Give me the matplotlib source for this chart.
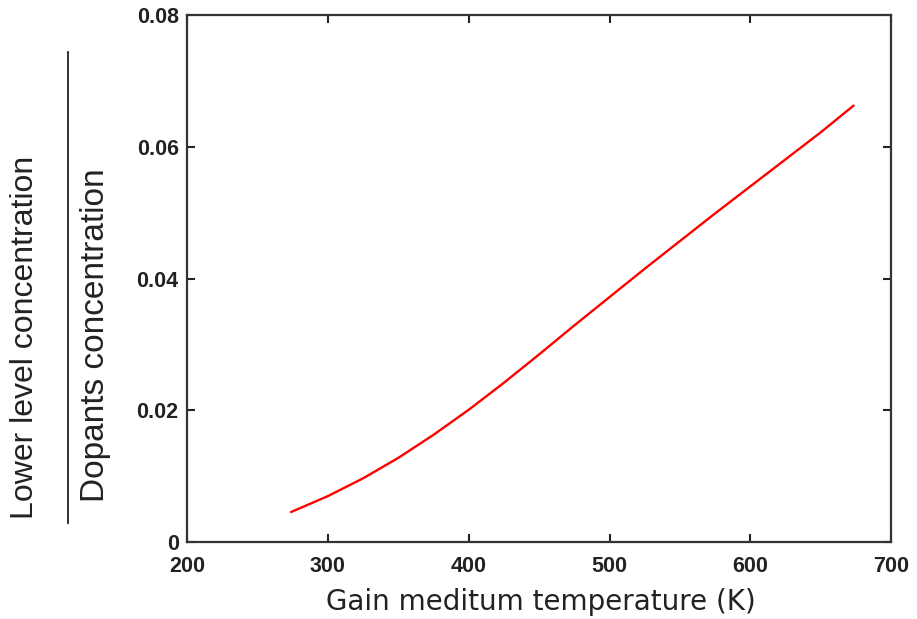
import matplotlib.pyplot as plt

# temperature (K) and lower level population fraction
temperature = [274, 300, 325, 350, 375, 400, 425, 450, 475, 500,
               525, 550, 575, 600, 625, 650, 673]
fraction = [0.0046, 0.0070, 0.0097, 0.0128, 0.0163, 0.0201, 0.0242, 0.0285, 0.0329,
            0.0372, 0.0415, 0.0457, 0.0499, 0.0540, 0.0581, 0.0622, 0.0662]

x_ticks = [200, 300, 400, 500, 600, 700]
y_ticks = [0, 0.02, 0.04, 0.06, 0.08]
y_tick_labels = ["0", "0.02", "0.04", "0.06", "0.08"]

fig = plt.figure(figsize=(9.17, 6.19), dpi=100)
ax = fig.add_axes([0.204, 0.124, 0.768, 0.852])

ax.plot(temperature, fraction, c="red", linewidth=1.7)

ax.set_xlim(200, 700)
ax.set_ylim(0, 0.08)
ax.set_xticks(x_ticks)
ax.set_yticks(y_ticks)
ax.set_yticklabels(y_tick_labels)

# ticks point inwards on all four sides
ax.tick_params(direction="in", length=6, width=1.5, color="#222222",
               top=True, right=True, labelsize=15.5)
ax.tick_params(axis="x", pad=10)
ax.tick_params(axis="y", pad=6)
for lab in ax.get_xticklabels() + ax.get_yticklabels():
    lab.set_fontfamily("Liberation Sans")
    lab.set_fontweight("bold")
    lab.set_color("#222222")
for s in ax.spines.values():
    s.set_linewidth(1.6)
    s.set_color("#333333")

# x axis label
fig.text(0.590, 0.028, "Gain meditum temperature (K)", ha="center", va="center",
         fontsize=20, color="#222222")

# y axis label written as a fraction
fig.text(0.027, 0.455, "Lower level concentration", rotation=90, ha="center",
         va="center", fontsize=23, color="#222222", family="Liberation Sans")
fig.add_artist(plt.Line2D([0.074, 0.074], [0.155, 0.916], color="#222222",
                          linewidth=1.3, transform=fig.transFigure))
fig.text(0.104, 0.458, "Dopants concentration", rotation=90, ha="center",
         va="center", fontsize=24, color="#222222", family="Liberation Sans")

fig.savefig("out.png", dpi=100)
